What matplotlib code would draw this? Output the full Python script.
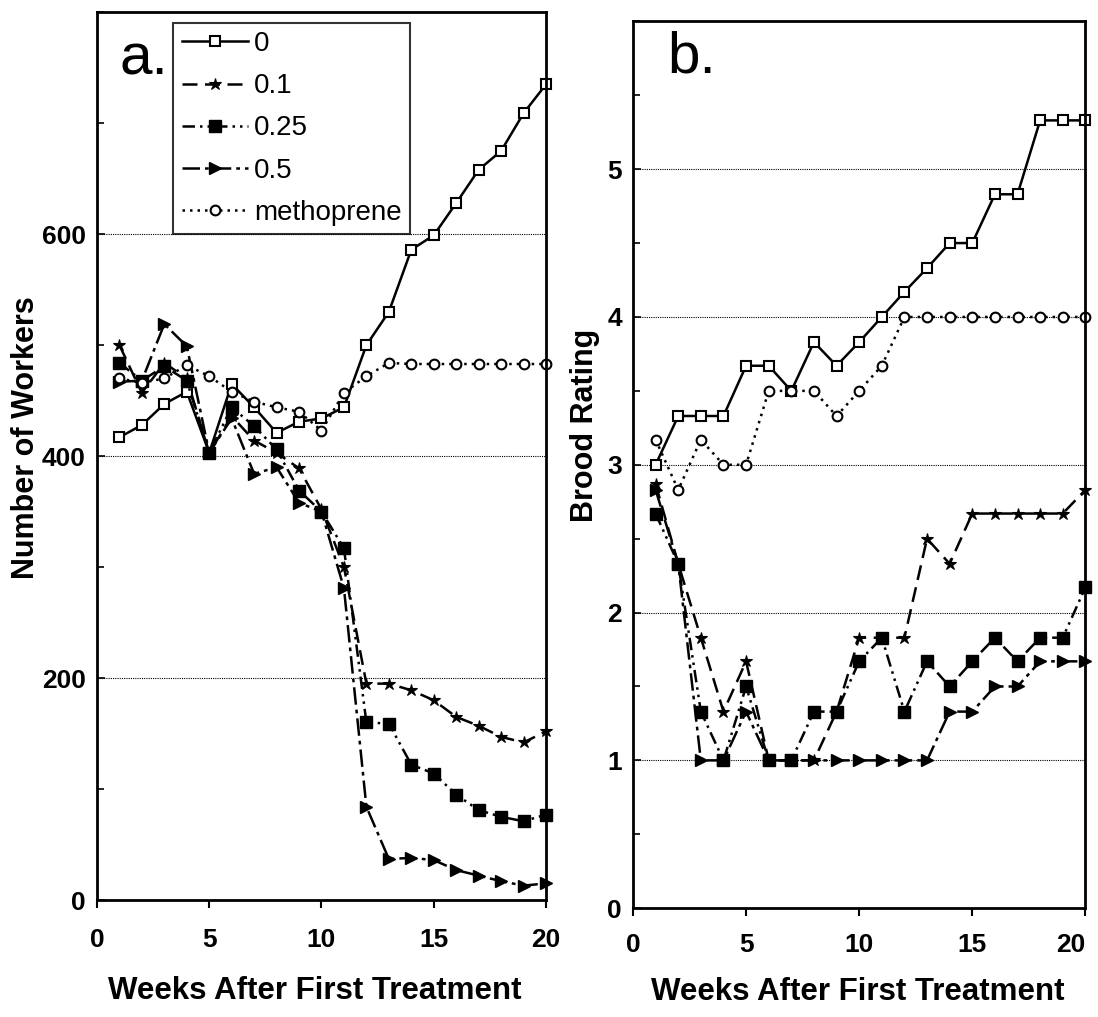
import matplotlib
matplotlib.use("Agg")
import matplotlib.pyplot as plt
from matplotlib.ticker import MultipleLocator, FixedLocator

plt.rcParams['font.family'] = ['Liberation Sans', 'DejaVu Sans']

weeks = list(range(1, 21))
series_labels = ["0", "0.1", "0.25", "0.5", "methoprene"]

# Panel a: Number of Workers
workers_0 = [417, 428, 447, 458, 403, 465, 444, 421, 431, 434, 444, 500, 530, 586, 599, 628, 658, 675, 709, 735]
workers_01 = [500, 457, 484, 470, 403, 436, 414, 403, 389, 352, 300, 195, 195, 189, 180, 165, 157, 147, 142, 152]
workers_025 = [484, 468, 481, 468, 403, 444, 427, 406, 369, 350, 317, 160, 159, 122, 114, 95, 81, 75, 71, 77]
workers_05 = [467, 468, 519, 499, 403, 434, 384, 390, 358, 350, 281, 84, 37, 38, 36, 27, 22, 17, 13, 15]
workers_meth = [470, 466, 470, 482, 472, 458, 449, 444, 440, 423, 457, 472, 484, 483, 483, 483, 483, 483, 483, 483]

# Panel b: Brood Rating
brood_0 = [3.0, 3.33, 3.33, 3.33, 3.67, 3.67, 3.5, 3.83, 3.67, 3.83, 4.0, 4.17, 4.33, 4.5, 4.5, 4.83, 4.83, 5.33, 5.33, 5.33]
brood_01 = [2.87, 2.33, 1.83, 1.33, 1.67, 1.0, 1.0, 1.0, 1.33, 1.83, 1.83, 1.83, 2.5, 2.33, 2.67, 2.67, 2.67, 2.67, 2.67, 2.83]
brood_025 = [2.67, 2.33, 1.33, 1.0, 1.5, 1.0, 1.0, 1.33, 1.33, 1.67, 1.83, 1.33, 1.67, 1.5, 1.67, 1.83, 1.67, 1.83, 1.83, 2.17]
brood_05 = [2.83, 2.33, 1.0, 1.0, 1.33, 1.0, 1.0, 1.0, 1.0, 1.0, 1.0, 1.0, 1.0, 1.33, 1.33, 1.5, 1.5, 1.67, 1.67, 1.67]
brood_meth = [3.17, 2.83, 3.17, 3.0, 3.0, 3.5, 3.5, 3.5, 3.33, 3.5, 3.67, 4.0, 4.0, 4.0, 4.0, 4.0, 4.0, 4.0, 4.0, 4.0]

workers_yticks = [0, 200, 400, 600]
brood_yticks = [0, 1, 2, 3, 4, 5]
week_ticks = [0, 5, 10, 15, 20]

styles = [
    dict(linestyle='-', marker='s', markerfacecolor='white', markersize=7, markeredgewidth=1.5),
    dict(linestyle=(0, (6, 3)), marker='*', markerfacecolor='black', markersize=9, markeredgewidth=0.8),
    dict(linestyle=(0, (5, 2, 1, 2, 1, 2)), marker='s', markerfacecolor='black', markersize=8),
    dict(linestyle=(0, (7, 2, 1.5, 2)), marker='>', markerfacecolor='black', markersize=9),
    dict(linestyle=(0, (1, 2)), marker='o', markerfacecolor='white', markersize=7, markeredgewidth=1.5),
]

fig = plt.figure(figsize=(10.98, 10.17), dpi=100)
ax_a = fig.add_axes([0.0883, 0.115, 0.409, 0.873])
ax_b = fig.add_axes([0.5765, 0.107, 0.412, 0.872])

def style_axes(ax, ymax, yticks, minor, xpad):
    ax.set_xlim(0, 20)
    ax.set_ylim(0, ymax)
    ax.xaxis.set_major_locator(FixedLocator(week_ticks))
    ax.yaxis.set_major_locator(FixedLocator(yticks))
    ax.yaxis.set_minor_locator(MultipleLocator(minor))
    for s in ax.spines.values():
        s.set_linewidth(2)
    ax.tick_params(axis='x', direction='out', length=6, width=1.5, labelsize=19, pad=xpad)
    ax.tick_params(axis='y', which='major', direction='in', length=6, width=1.2, labelsize=19, pad=8)
    ax.tick_params(axis='y', which='minor', direction='in', length=5, width=1.2)
    for lab in ax.get_xticklabels() + ax.get_yticklabels():
        lab.set_fontweight('bold')
    for v in yticks:
        if v > 0:
            ax.axhline(v, color='black', linestyle=(0, (1, 1)), linewidth=0.8, zorder=0)

series_a = [workers_0, workers_01, workers_025, workers_05, workers_meth]
series_b = [brood_0, brood_01, brood_025, brood_05, brood_meth]

for vals, lab, st in zip(series_a, series_labels, styles):
    ax_a.plot(weeks, vals, color='black', linewidth=1.8, markeredgecolor='black', label=lab, clip_on=False, **st)
for vals, lab, st in zip(series_b, series_labels, styles):
    ax_b.plot(weeks, vals, color='black', linewidth=1.8, markeredgecolor='black', label=lab, clip_on=False, **st)

style_axes(ax_a, 800, workers_yticks, 100, 14)
style_axes(ax_b, 6, brood_yticks, 0.5, 12)
ax_b.get_xticklabels()[-1].set_horizontalalignment('right')
ax_b.get_xticklabels()[-1].set_x(20)

leg = ax_a.legend(loc='upper left', bbox_to_anchor=(0.17, 0.988), fontsize=20, frameon=True,
                  fancybox=False, edgecolor='black', handlelength=2.4, handletextpad=0.2,
                  labelspacing=0.58, borderpad=0.3, borderaxespad=0)
leg.get_frame().set_linewidth(1.5)

ax_a.text(0.05, 0.977, "a.", transform=ax_a.transAxes, fontsize=42, va='top', ha='left')
ax_b.text(0.075, 0.99, "b.", transform=ax_b.transAxes, fontsize=42, va='top', ha='left')

fig.text(0.024, 0.570, "Number of Workers", rotation=90, ha='center', va='center', fontsize=22, fontweight='bold')
fig.text(0.533, 0.582, "Brood Rating", rotation=90, ha='center', va='center', fontsize=22, fontweight='bold')
fig.text(0.287, 0.026, "Weeks After First Treatment", ha='center', va='center', fontsize=22.5, fontweight='bold')
fig.text(0.781, 0.025, "Weeks After First Treatment", ha='center', va='center', fontsize=22.5, fontweight='bold')

fig.savefig("out.png", dpi=100, facecolor='white')
